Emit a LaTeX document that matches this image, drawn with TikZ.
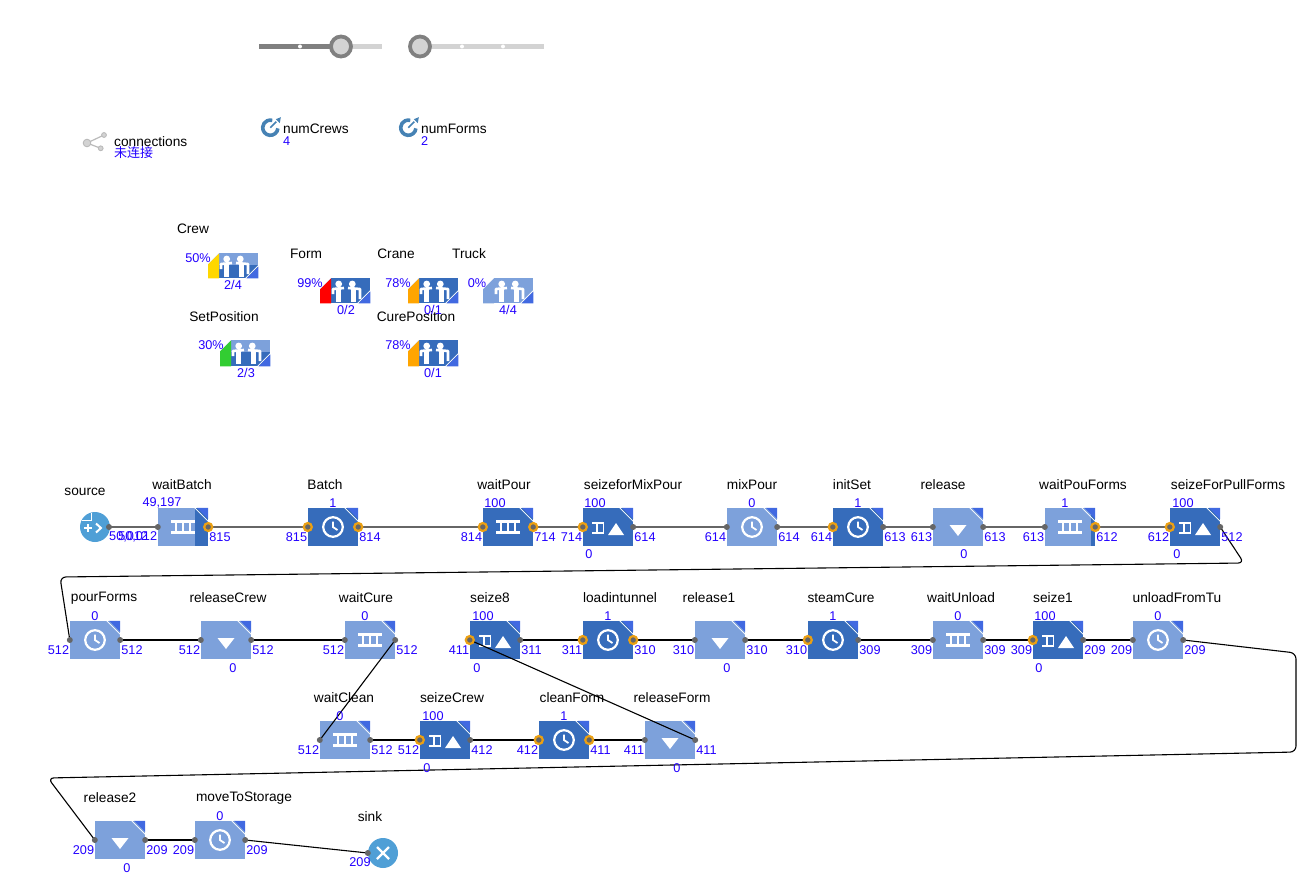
\documentclass[tikz,border=0pt]{standalone}
\usepackage{fontspec}
\setmainfont{Liberation Sans}
\newfontfamily\cjkfont{Noto Sans CJK SC}
\definecolor{blocklight}{HTML}{7DA1DB}
\definecolor{blockdark}{HTML}{366CBB}
\definecolor{blockcorner}{HTML}{4169E1}
\definecolor{endcircle}{HTML}{4F9FD6}
\definecolor{portgray}{HTML}{666666}
\definecolor{portorange}{HTML}{EBA013}
\definecolor{numblue}{HTML}{2200FF}
\definecolor{knobgray}{HTML}{808080}
\definecolor{trackgray}{HTML}{D3D3D3}
\definecolor{paramblue}{HTML}{4682B4}
\definecolor{poolyellow}{HTML}{FFD700}
\definecolor{poolred}{HTML}{FF0000}
\definecolor{poolorange}{HTML}{FFA500}
\definecolor{poolgreen}{HTML}{32CD32}
\tikzset{
    titletext/.style={font=\fontsize{13.7}{15}\selectfont,text=black,inner sep=0pt,yshift=-1pt},
    numtext/.style={font=\fontsize{12.7}{15}\selectfont,text=numblue,inner sep=0pt,yshift=-1pt},
    flowbox/.style={rectangle,minimum width=50pt,minimum height=38pt,inner sep=0pt},
    lightbox/.style={flowbox,fill=blocklight},
    darkbox/.style={flowbox,fill=blockdark},
    poolbox/.style={rectangle,minimum width=50pt,inner sep=0pt},
    endbox/.style={circle,minimum size=30pt,inner sep=0pt,fill=endcircle},
    graylink/.style={draw=portgray,line width=1.7pt},
    blacklink/.style={draw=black,line width=1.1pt,rounded corners=6pt},
    clockicon/.pic={
        \draw[white,line width=2.2pt] (0,0) circle (9.8);
        \draw[white,line width=1.8pt] (0,-5.5) -- (0,0) -- (4.5,3);
    },
    queueicon/.pic={
        \draw[white,line width=2.2pt] (-12,-5.5) -- (12,-5.5) (-12,5.5) -- (12,5.5) (-7,-5.5) -- (-7,5.5) (0,-5.5) -- (0,5.5) (7,-5.5) -- (7,5.5);
    },
    seizeicon/.pic={
        \draw[white,line width=1.7pt] (-16,-4) -- (-4.5,-4) -- (-4.5,6) -- (-16,6) (-11,-4) -- (-11,6);
        \fill[white] (0,8) -- (16,8) -- (8,-4) -- cycle;
    },
    releaseicon/.pic={
        \fill[white] (-8.5,-2) -- (8.5,-2) -- (0,9) -- cycle;
    },
    paramicon/.pic={
        \draw[paramblue,line width=3.6pt] (5:7.6) arc[start angle=5,end angle=285,radius=7.6];
        \draw[paramblue,line width=1.7pt] (0,0) -- (6,-6);
        \fill[paramblue] (5.5,-8.5) -- (10.5,-10.5) -- (9.5,-4.5) -- cycle;
    }
}
% block with its corner mark
\newcommand{\flowblock}[5]{
    \node[#4] (#1) at #2 {};
    #3
    \fill[blockcorner] ([xshift=-11pt]#1.north east) -- (#1.north east) -- ([yshift=-11pt]#1.north east) -- cycle;
    \draw[white,line width=0.8pt] ([xshift=-13.5pt]#1.north east) -- ([yshift=-13.5pt]#1.north east);
    \pic at (#1.center) {#5};
}
% in and out counters under the ports
\newcommand{\portlabels}[3]{
    \node[numtext,anchor=east] (#1In) at ([xshift=-0.5pt,yshift=-9pt]#1.west) {#2};
    \node[numtext,anchor=west] (#1Out) at ([xshift=1pt,yshift=-9pt]#1.east) {#3};
}
\newcommand{\portdot}[1]{\fill[portgray] (#1) circle (3);}
\newcommand{\portring}[1]{\draw[portorange,line width=2.2pt,fill=portgray] (#1) circle (4);}
% resource pool, #2 = left top corner
\newcommand{\resourcepool}[7]{
    \node[poolbox,minimum height=#3pt,anchor=north west] (#1) at #2 {};
    \fill[#6] (#1.north west) rectangle (#1.south east);
    \fill[#7] ([yshift=-12pt]#1.north west) rectangle (#1.south east);
    \fill[#5] ([yshift=-11pt]#1.north west) -- ([xshift=11pt]#1.north west) -- ([xshift=11pt]#1.south west) -- (#1.south west) -- cycle;
    \fill[white] (#1.north west) -- ([xshift=11pt]#1.north west) -- ([yshift=-11pt]#1.north west) -- cycle;
    \fill[blockcorner] (#1.south east) -- ([yshift=12pt]#1.south east) -- ([xshift=-12pt]#1.south east) -- cycle;
    \draw[white,line width=0.7pt] ([yshift=13pt]#1.south east) -- ([xshift=-13pt]#1.south east);
    \begin{scope}[shift={(#1.north west)}]
        \fill[white] (18.7,6) circle (3.4);
        \draw[white,line width=2.6pt,line join=round] (13,16) -- (13,11) -- (24,10);
        \draw[white,line width=4.4pt] (18.5,10) -- (18.5,24);
        \fill[white] (32.3,6) circle (3.4);
        \draw[white,line width=2.6pt,line join=round] (28,10) -- (40,11) -- (40,21);
        \draw[white,line width=4.4pt] (33.5,10) -- (33.5,24);
    \end{scope}
}
\begin{document}
\begin{tikzpicture}[x=1pt,y=-1pt]
    \useasboundingbox (0,0) rectangle (1305,891);

    % sliders
    \fill[trackgray] (259,44) rectangle (382,49);
    \fill[knobgray] (259,44) rectangle (341,49);
    \fill[white] (300,46.5) circle (2);
    \draw[knobgray,line width=3.8pt,fill=trackgray] (341,46.5) circle (10);
    \fill[trackgray] (409,44) rectangle (544,49);
    \fill[white] (462,46.5) circle (2);
    \fill[white] (503,46.5) circle (2);
    \draw[knobgray,line width=3.8pt,fill=trackgray] (420,46.5) circle (10);

    % parameters and connections
    \draw[trackgray!70!gray,line width=1.2pt] (104,135) -- (87,143) -- (100.7,148.3);
    \draw[trackgray!70!gray,line width=0.9pt,fill=trackgray] (87,143) circle (3.8) (104,135) circle (2.4) (100.7,148.3) circle (2.4);
    \node[titletext,anchor=west] (connName) at (114,141) {connections};
    \node[numtext,anchor=west,font=\cjkfont\fontsize{13}{15}\selectfont] (connState) at (114,152) {未连接};
    \pic at (270.3,127.7) {paramicon};
    \node[titletext,anchor=west] (crewsName) at (283,128) {numCrews};
    \node[numtext,anchor=west] (crewsValue) at (283,140) {4};
    \pic at (408.3,127.7) {paramicon};
    \node[titletext,anchor=west] (formsName) at (421,128) {numForms};
    \node[numtext,anchor=west] (formsValue) at (421,140) {2};

    % resources
    \resourcepool{Crew}{(208,253)}{25}{50}{poolyellow}{blocklight}{blockdark}
    \resourcepool{Form}{(320,278)}{25}{99}{poolred}{blockdark}{blockdark}
    \resourcepool{Crane}{(408,278)}{25}{78}{poolorange}{blockdark}{blockdark}
    \resourcepool{Truck}{(483,278)}{25}{0}{blocklight}{blocklight}{blocklight}
    \resourcepool{SetPosition}{(220,340)}{26}{30}{poolgreen}{blocklight}{blockdark}
    \resourcepool{CurePosition}{(408,340)}{26}{78}{poolorange}{blockdark}{blockdark}
    \node[titletext] (crewName) at (193,228) {Crew};
    \node[titletext] (formName) at (306,253) {Form};
    \node[titletext] (craneName) at (396,253) {Crane};
    \node[titletext] (truckName) at (469,253) {Truck};
    \node[titletext] (setName) at (224,316) {SetPosition};
    \node[titletext] (cureName) at (416,316) {CurePosition};
    \node[numtext] (crewPct) at (198,257) {50\%};
    \node[numtext] (formPct) at (310,282) {99\%};
    \node[numtext] (cranePct) at (398,282) {78\%};
    \node[numtext] (truckPct) at (477,282) {0\%};
    \node[numtext] (setPct) at (211,344) {30\%};
    \node[numtext] (curePct) at (398,344) {78\%};
    \node[numtext] (crewUse) at (233,284) {2/4};
    \node[numtext] (formUse) at (346,309) {0/2};
    \node[numtext] (craneUse) at (433,309) {0/1};
    \node[numtext] (truckUse) at (508,309) {4/4};
    \node[numtext] (setUse) at (246,372) {2/3};
    \node[numtext] (cureUse) at (433,372) {0/1};

    % first row
    \node[endbox] (source) at (95,527) {};
    \draw[white,line width=0.8pt] (82,520) -- (91,520) -- (91,513);
    \draw[white,line width=2pt] (84,528) -- (92,528) (88,524) -- (88,532);
    \draw[white,line width=2pt] (96,523.5) -- (101,528) -- (96,532.5);
    \flowblock{waitBatch}{(183,527)}{\fill[blockdark] (195,508) rectangle (208,546);}{lightbox}{queueicon}
    \flowblock{Batch}{(333,527)}{}{darkbox}{clockicon}
    \flowblock{waitPour}{(508,527)}{}{darkbox}{queueicon}
    \flowblock{seizeforMixPour}{(608,527)}{}{darkbox}{seizeicon}
    \flowblock{mixPour}{(752,527)}{}{lightbox}{clockicon}
    \flowblock{initSet}{(858,527)}{}{darkbox}{clockicon}
    \flowblock{release}{(958,527)}{}{lightbox}{releaseicon}
    \flowblock{waitPouForms}{(1070,527)}{\fill[blockdark] (1091,508) rectangle (1095,546);}{lightbox}{queueicon}
    \flowblock{seizeForPullForms}{(1195,527)}{}{darkbox}{seizeicon}

    % second row
    \flowblock{pourForms}{(95,640)}{}{lightbox}{clockicon}
    \flowblock{releaseCrew}{(226,640)}{}{lightbox}{releaseicon}
    \flowblock{waitCure}{(370,640)}{}{lightbox}{queueicon}
    \flowblock{seizeEight}{(495,640)}{}{darkbox}{seizeicon}
    \flowblock{loadintunnel}{(608,640)}{}{darkbox}{clockicon}
    \flowblock{releaseOne}{(720,640)}{}{lightbox}{releaseicon}
    \flowblock{steamCure}{(833,640)}{}{darkbox}{clockicon}
    \flowblock{waitUnload}{(958,640)}{}{lightbox}{queueicon}
    \flowblock{seizeOne}{(1058,640)}{}{darkbox}{seizeicon}
    \flowblock{unloadFromTu}{(1158,640)}{}{lightbox}{clockicon}

    % third row
    \flowblock{waitClean}{(345,740)}{}{lightbox}{queueicon}
    \flowblock{seizeCrew}{(445,740)}{}{darkbox}{seizeicon}
    \flowblock{cleanForm}{(564,740)}{}{darkbox}{clockicon}
    \flowblock{releaseForm}{(670,740)}{}{lightbox}{releaseicon}

    % last row
    \flowblock{releaseTwo}{(120,840)}{}{lightbox}{releaseicon}
    \flowblock{moveToStorage}{(220,840)}{}{lightbox}{clockicon}
    \node[endbox] (sink) at (383,853) {};
    \draw[white,line width=2.4pt] (377,847) -- (389,859) (377,859) -- (389,847);

    % connectors
    \draw[graylink] (source.center) ++(14,0) -- (waitBatch.west);
    \draw[graylink] (waitBatch.east) -- (Batch.west);
    \draw[graylink] (Batch.east) -- (waitPour.west);
    \draw[graylink] (waitPour.east) -- (seizeforMixPour.west);
    \draw[graylink] (seizeforMixPour.east) -- (mixPour.west);
    \draw[graylink] (mixPour.east) -- (initSet.west);
    \draw[graylink] (initSet.east) -- (release.west);
    \draw[graylink] (release.east) -- (waitPouForms.west);
    \draw[graylink] (waitPouForms.east) -- (seizeForPullForms.west);
    \coordinate (bendA) at (1244,563);
    \coordinate (bendB) at (60,577);
    \draw[blacklink] (seizeForPullForms.east) -- (bendA) -- (bendB) -- (pourForms.west);
    \draw[blacklink] (pourForms.east) -- (releaseCrew.west);
    \draw[blacklink] (releaseCrew.east) -- (waitCure.west);
    \draw[blacklink] (waitCure.east) -- (waitClean.west);
    \draw[blacklink] (waitClean.east) -- (seizeCrew.west);
    \draw[blacklink] (seizeCrew.east) -- (cleanForm.west);
    \draw[blacklink] (cleanForm.east) -- (releaseForm.west);
    \draw[blacklink] (releaseForm.east) -- (seizeEight.west);
    \draw[blacklink] (seizeEight.east) -- (loadintunnel.west);
    \draw[blacklink] (loadintunnel.east) -- (releaseOne.west);
    \draw[blacklink] (releaseOne.east) -- (steamCure.west);
    \draw[blacklink] (steamCure.east) -- (waitUnload.west);
    \draw[blacklink] (waitUnload.east) -- (seizeOne.west);
    \draw[blacklink] (seizeOne.east) -- (unloadFromTu.west);
    \coordinate (bendC) at (1296,653);
    \coordinate (bendD) at (1296,752);
    \coordinate (bendE) at (48,778);
    \draw[blacklink] (unloadFromTu.east) -- (bendC) -- (bendD) -- (bendE) -- (releaseTwo.west);
    \draw[blacklink] (releaseTwo.east) -- (moveToStorage.west);
    \draw[blacklink] (moveToStorage.east) -- (sink.west);

    % ports
    \fill[portgray] (source.center) ++(14,0) circle (3);
    \portring{waitBatch.east}
    \portdot{waitBatch.west}
    \portring{Batch.west}
    \portring{Batch.east}
    \portring{waitPour.west}
    \portring{waitPour.east}
    \portring{seizeforMixPour.west}
    \portdot{seizeforMixPour.east}
    \portdot{mixPour.west}
    \portdot{mixPour.east}
    \portring{initSet.west}
    \portdot{initSet.east}
    \portdot{release.west}
    \portdot{release.east}
    \portdot{waitPouForms.west}
    \portring{waitPouForms.east}
    \portring{seizeForPullForms.west}
    \portdot{seizeForPullForms.east}
    \portdot{pourForms.west}
    \portdot{pourForms.east}
    \portdot{releaseCrew.west}
    \portdot{releaseCrew.east}
    \portdot{waitCure.west}
    \portdot{waitCure.east}
    \portring{seizeEight.west}
    \portdot{seizeEight.east}
    \portring{loadintunnel.west}
    \portring{loadintunnel.east}
    \portdot{releaseOne.west}
    \portdot{releaseOne.east}
    \portring{steamCure.west}
    \portdot{steamCure.east}
    \portdot{waitUnload.west}
    \portdot{waitUnload.east}
    \portring{seizeOne.west}
    \portdot{seizeOne.east}
    \portdot{unloadFromTu.west}
    \portdot{unloadFromTu.east}
    \portdot{waitClean.west}
    \portdot{waitClean.east}
    \portring{seizeCrew.west}
    \portdot{seizeCrew.east}
    \portring{cleanForm.west}
    \portring{cleanForm.east}
    \portdot{releaseForm.west}
    \portdot{releaseForm.east}
    \portdot{releaseTwo.west}
    \portdot{releaseTwo.east}
    \portdot{moveToStorage.west}
    \portdot{moveToStorage.east}
    \portdot{sink.west}

    % names
    \node[titletext] (sourceName) at (85,491) {source};
    \node[titletext] (waitBatchName) at (182,484) {waitBatch};
    \node[titletext] (BatchName) at (325,484) {Batch};
    \node[titletext] (waitPourName) at (504,484) {waitPour};
    \node[titletext] (seizeforMixPourName) at (633,484) {seizeforMixPour};
    \node[titletext] (mixPourName) at (752,484) {mixPour};
    \node[titletext] (initSetName) at (852,484) {initSet};
    \node[titletext] (releaseName) at (943,484) {release};
    \node[titletext] (waitPouFormsName) at (1083,484) {waitPouForms};
    \node[titletext] (seizeForPullFormsName) at (1228,484) {seizeForPullForms};
    \node[titletext] (pourFormsName) at (104,597) {pourForms};
    \node[titletext] (releaseCrewName) at (228,597) {releaseCrew};
    \node[titletext] (waitCureName) at (366,597) {waitCure};
    \node[titletext] (seizeEightName) at (490,597) {seize8};
    \node[titletext] (loadintunnelName) at (620,597) {loadintunnel};
    \node[titletext] (releaseOneName) at (709,597) {release1};
    \node[titletext] (steamCureName) at (841,597) {steamCure};
    \node[titletext] (waitUnloadName) at (961,597) {waitUnload};
    \node[titletext] (seizeOneName) at (1053,597) {seize1};
    \node[titletext] (unloadFromTuName) at (1177,597) {unloadFromTu};
    \node[titletext] (waitCleanName) at (344,697) {waitClean};
    \node[titletext] (seizeCrewName) at (452,697) {seizeCrew};
    \node[titletext] (cleanFormName) at (572,697) {cleanForm};
    \node[titletext] (releaseFormName) at (672,697) {releaseForm};
    \node[titletext] (releaseTwoName) at (110,797) {release2};
    \node[titletext] (moveToStorageName) at (244,797) {moveToStorage};
    \node[titletext] (sinkName) at (370,816) {sink};

    % contents
    \node[numtext] (waitBatchNum) at (162,502) {49,197};
    \node[numtext] (BatchNum) at (333,502) {1};
    \node[numtext] (waitPourNum) at (495,502) {100};
    \node[numtext] (seizeforMixPourNum) at (595,502) {100};
    \node[numtext] (mixPourNum) at (752,502) {0};
    \node[numtext] (initSetNum) at (858,502) {1};
    \node[numtext] (waitPouFormsNum) at (1065,502) {1};
    \node[numtext] (seizeForPullFormsNum) at (1183,502) {100};
    \node[numtext] (seizeforMixPourLow) at (589,553) {0};
    \node[numtext] (releaseLow) at (964,553) {0};
    \node[numtext] (seizeForPullFormsLow) at (1177,553) {0};
    \node[numtext] (pourFormsNum) at (95,615) {0};
    \node[numtext] (waitCureNum) at (365,615) {0};
    \node[numtext] (seizeEightNum) at (483,615) {100};
    \node[numtext] (loadintunnelNum) at (608,615) {1};
    \node[numtext] (steamCureNum) at (833,615) {1};
    \node[numtext] (waitUnloadNum) at (958,615) {0};
    \node[numtext] (seizeOneNum) at (1045,615) {100};
    \node[numtext] (unloadFromTuNum) at (1158,615) {0};
    \node[numtext] (releaseCrewLow) at (233,667) {0};
    \node[numtext] (seizeEightLow) at (477,667) {0};
    \node[numtext] (releaseOneLow) at (727,667) {0};
    \node[numtext] (seizeOneLow) at (1039,667) {0};
    \node[numtext] (waitCleanNum) at (340,715) {0};
    \node[numtext] (seizeCrewNum) at (433,715) {100};
    \node[numtext] (cleanFormNum) at (564,715) {1};
    \node[numtext] (seizeCrewLow) at (427,767) {0};
    \node[numtext] (releaseFormLow) at (677,767) {0};
    \node[numtext] (moveToStorageNum) at (220,815) {0};
    \node[numtext] (releaseTwoLow) at (127,867) {0};

    % port counters
    \node[numtext,anchor=west] (sourceOut) at (109,536) {50,012};
    \portlabels{waitBatch}{50,012}{815}
    \portlabels{Batch}{815}{814}
    \portlabels{waitPour}{814}{714}
    \portlabels{seizeforMixPour}{714}{614}
    \portlabels{mixPour}{614}{614}
    \portlabels{initSet}{614}{613}
    \portlabels{release}{613}{613}
    \portlabels{waitPouForms}{613}{612}
    \portlabels{seizeForPullForms}{612}{512}
    \portlabels{pourForms}{512}{512}
    \portlabels{releaseCrew}{512}{512}
    \portlabels{waitCure}{512}{512}
    \portlabels{seizeEight}{411}{311}
    \portlabels{loadintunnel}{311}{310}
    \portlabels{releaseOne}{310}{310}
    \portlabels{steamCure}{310}{309}
    \portlabels{waitUnload}{309}{309}
    \portlabels{seizeOne}{309}{209}
    \portlabels{unloadFromTu}{209}{209}
    \portlabels{waitClean}{512}{512}
    \portlabels{seizeCrew}{512}{412}
    \portlabels{cleanForm}{412}{411}
    \portlabels{releaseForm}{411}{411}
    \portlabels{releaseTwo}{209}{209}
    \portlabels{moveToStorage}{209}{209}
    \node[numtext] (sinkIn) at (360,861) {209};
\end{tikzpicture}
\end{document}
